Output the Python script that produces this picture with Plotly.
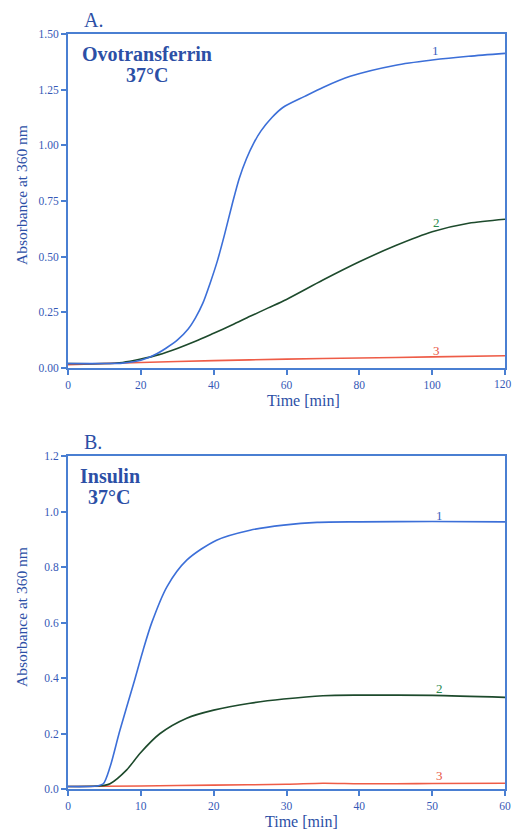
import plotly.graph_objects as go

# ---------------- data ----------------
# Panel A: Ovotransferrin 37°C
a_time_1 = [0, 10, 15, 18, 20, 22, 24.5, 27, 30, 33, 35, 37, 39, 41, 43, 45, 47, 49, 51, 53, 56, 59, 65, 70, 77.5, 90, 100, 110, 120]
a_abs_1 = [0.02, 0.02, 0.022, 0.028, 0.035, 0.046, 0.065, 0.09, 0.125, 0.175, 0.225, 0.29, 0.38, 0.48, 0.6, 0.73, 0.85, 0.94, 1.01, 1.065, 1.125, 1.17, 1.22, 1.26, 1.31, 1.36, 1.383, 1.40, 1.413]
a_time_2 = [0, 10, 15, 20, 25, 30, 35, 40, 45, 50, 55, 60, 70, 80, 90, 100, 110, 120]
a_abs_2 = [0.02, 0.02, 0.025, 0.04, 0.06, 0.088, 0.12, 0.156, 0.193, 0.232, 0.27, 0.308, 0.395, 0.477, 0.55, 0.612, 0.65, 0.668]
a_time_3 = [0, 20, 40, 60, 80, 100, 120]
a_abs_3 = [0.015, 0.025, 0.033, 0.04, 0.045, 0.05, 0.055]

# Panel B: Insulin 37°C
b_time_1 = [0, 4, 4.85, 5.77, 7.1, 9, 10.3, 11.5, 13.6, 16.3, 20.4, 25, 29.6, 34.2, 40, 50, 60]
b_abs_1 = [0.01, 0.012, 0.02, 0.08, 0.21, 0.38, 0.5, 0.6, 0.73, 0.825, 0.897, 0.933, 0.951, 0.961, 0.963, 0.964, 0.963]
b_time_2 = [0, 4, 5, 5.77, 8.06, 9.9, 12.6, 16.3, 20, 25, 29.6, 35, 40, 50, 60]
b_abs_2 = [0.01, 0.012, 0.014, 0.02, 0.07, 0.13, 0.2, 0.256, 0.285, 0.31, 0.325, 0.337, 0.339, 0.338, 0.331]
b_time_3 = [0, 10, 20, 30, 35, 40, 45, 50, 60]
b_abs_3 = [0.01, 0.012, 0.015, 0.018, 0.022, 0.02, 0.02, 0.021, 0.022]

a_xticks = [0, 20, 40, 60, 80, 100, 120]
a_yticks = [0, 0.25, 0.5, 0.75, 1.0, 1.25, 1.5]
b_xticks = [0, 10, 20, 30, 40, 50, 60]
b_yticks = [0, 0.2, 0.4, 0.6, 0.8, 1.0, 1.2]

# curve labels: (panel, text, x, y)
curve_labels = [
    ("A", "1", 101, 1.425), ("A", "2", 101.3, 0.655), ("A", "3", 101.3, 0.08),
    ("B", "1", 51, 0.987), ("B", "2", 51, 0.364), ("B", "3", 51, 0.051),
]

# ---------------- styling ----------------
W, H = 513, 832
SERIF = "Liberation Serif, Times New Roman, serif"
AXIS_COL = "#4a7fd2"
TEXT_COL = "#3558b6"
TITLE_COL = "#2c4fa6"
C1, C2, C3 = "#3c6fd8", "#1d4a2c", "#ee5c47"
LABEL_COLS = {"1": "#3c62c0", "2": "#2a8a4e", "3": "#e8553f"}
TICK_SIZE = 11.5

def px_x(p):
    return p / W

def px_y(p):
    return 1 - p / H

fig = go.Figure()

def add_curve(x, y, color, xa, ya):
    fig.add_trace(go.Scatter(x=x, y=y, mode="lines", xaxis=xa, yaxis=ya,
                             line=dict(color=color, width=1.6, shape="spline", smoothing=0.8),
                             showlegend=False, hoverinfo="skip"))

add_curve(a_time_3, a_abs_3, C3, "x", "y")
add_curve(a_time_2, a_abs_2, C2, "x", "y")
add_curve(a_time_1, a_abs_1, C1, "x", "y")
add_curve(b_time_3, b_abs_3, C3, "x2", "y2")
add_curve(b_time_2, b_abs_2, C2, "x2", "y2")
add_curve(b_time_1, b_abs_1, C1, "x2", "y2")

axis_common = dict(showline=True, linecolor=AXIS_COL, linewidth=2, mirror=True,
                   ticks="outside", ticklen=5, tickwidth=1.5, tickcolor=AXIS_COL,
                   showgrid=False, zeroline=False, automargin=False,
                   tickfont=dict(family=SERIF, size=TICK_SIZE, color=TEXT_COL))

# last x tick label of panel A sits at the page edge; it is drawn separately below
a_xticktext = [str(v) for v in a_xticks[:-1]] + [""]

xdom = [px_x(68), px_x(505)]
fig.update_layout(
    width=W, height=H, autosize=False, margin=dict(l=0, r=0, t=0, b=0, pad=0),
    paper_bgcolor="white", plot_bgcolor="white",
    xaxis=dict(domain=xdom, range=[0, 120], tickvals=a_xticks, ticktext=a_xticktext,
               anchor="y", **axis_common),
    yaxis=dict(domain=[px_y(368), px_y(34)], range=[0, 1.5], tickvals=a_yticks,
               tickformat=".2f", anchor="x", **axis_common),
    xaxis2=dict(domain=xdom, range=[0, 60], tickvals=b_xticks, anchor="y2", **axis_common),
    yaxis2=dict(domain=[px_y(789.3), px_y(456)], range=[0, 1.2], tickvals=b_yticks,
                tickformat=".1f", anchor="x2", **axis_common),
)

def text(x, y, s, size, color, bold=False, angle=0, xanchor="center"):
    fig.add_annotation(x=px_x(x), y=px_y(y), xref="paper", yref="paper", text=s,
                       showarrow=False, xanchor=xanchor, yanchor="middle", textangle=angle,
                       borderpad=0, font=dict(family=SERIF, size=size, color=color,
                                              weight="bold" if bold else "normal"))

# edge tick label "120"
text(513, 384, str(a_xticks[-1]), TICK_SIZE, TEXT_COL, xanchor="right")

# panel letters and titles
text(93, 20, "A.", 20, TITLE_COL)
text(146.5, 54, "Ovotransferrin", 20, TITLE_COL, bold=True)
text(146.7, 75, "37°C", 20, TITLE_COL, bold=True)
text(93, 442, "B.", 20, TITLE_COL)
text(110, 476, "Insulin", 20, TITLE_COL, bold=True)
text(109, 497.5, "37°C", 20, TITLE_COL, bold=True)

# axis titles
text(303, 400, "Time [min]", 16, TITLE_COL)
text(301.5, 821, "Time [min]", 16, TITLE_COL)
text(21, 195, "Absorbance at 360 nm", 15.5, TITLE_COL, angle=-90)
text(21, 617, "Absorbance at 360 nm", 15.5, TITLE_COL, angle=-90)

# curve labels
for panel, s, x, y in curve_labels:
    xa, ya = ("x", "y") if panel == "A" else ("x2", "y2")
    fig.add_annotation(x=x, y=y, xref=xa, yref=ya, text=s, showarrow=False,
                       font=dict(family=SERIF, size=13, color=LABEL_COLS[s]))

fig.write_html("out.html",
               config={"displayModeBar": False, "responsive": False},
               post_script="document.body.style.margin='0';document.body.style.overflow='hidden';")
